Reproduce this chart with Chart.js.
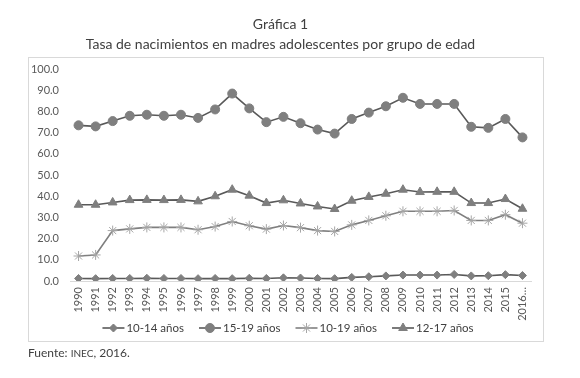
<!DOCTYPE html>
<html>
<head>
<meta charset="utf-8">
<script src="https://cdn.jsdelivr.net/npm/chart.js@4"></script>
<style>
  body { margin: 0; background: #fff; }
  #wrap { width: 580px; height: 378px; }
</style>
</head>
<body>
<div id="wrap"><canvas id="myChart" width="580" height="378"></canvas></div>
<script>
// data
const years = ['1990', '1991', '1992', '1993', '1994', '1995', '1996', '1997', '1998', '1999',
  '2000', '2001', '2002', '2003', '2004', '2005', '2006', '2007', '2008', '2009',
  '2010', '2011', '2012', '2013', '2014', '2015', '2016…'];

const rate1014 = [1.2, 1.1, 1.2, 1.2, 1.3, 1.2, 1.2, 1.1, 1.2, 1.1,
  1.3, 1.2, 1.5, 1.4, 1.2, 1.1, 1.7, 2.0, 2.4, 2.8,
  2.8, 2.8, 3.1, 2.4, 2.5, 3.0, 2.6];

const rate1519 = [73.5, 73.0, 75.5, 78.0, 78.5, 78.0, 78.5, 77.0, 81.0, 88.5,
  81.5, 75.0, 77.5, 74.5, 71.5, 69.6, 76.5, 79.5, 82.5, 86.5,
  83.6, 83.6, 83.6, 72.8, 72.3, 76.5, 67.8];

const rate1019 = [11.8, 12.3, 23.8, 24.6, 25.3, 25.3, 25.3, 24.2, 25.7, 28.1,
  26.1, 24.5, 26.2, 25.2, 23.8, 23.4, 26.5, 28.6, 30.8, 32.9,
  32.9, 32.9, 33.3, 28.6, 28.6, 31.3, 27.3];

const rate1217 = [36.0, 36.0, 37.1, 38.2, 38.3, 38.2, 38.3, 37.6, 40.0, 43.1,
  40.3, 36.8, 38.1, 36.6, 35.2, 34.0, 37.9, 39.7, 41.2, 43.1,
  42.0, 42.1, 42.1, 36.8, 36.8, 38.7, 34.1];

const seriesNames = ['10-14 años', '15-19 años', '10-19 años', '12-17 años'];

const FONT = 'Lato';

// white background + light frame around the chart
const framePlugin = {
  id: 'frame',
  beforeDraw(chart) {
    const ctx = chart.ctx;
    ctx.save();
    ctx.fillStyle = '#fff';
    ctx.fillRect(0, 0, chart.width, chart.height);
    ctx.strokeStyle = '#d9d9d9';
    ctx.lineWidth = 1;
    ctx.strokeRect(28.5, 57.5, 515, 284);
    ctx.restore();
  }
};

// legend drawn as line + marker, like the office chart
const lineLegend = {
  id: 'lineLegend',
  afterDraw(chart) {
    const ctx = chart.ctx;
    const y = 328;
    const lineW = 22;
    const gap = 15;
    ctx.save();
    ctx.font = '11.5px ' + FONT;
    let widths = chart.data.datasets.map(ds => lineW + 2 + ctx.measureText(ds.label).width);
    let total = widths.reduce((a, b) => a + b, 0) + gap * (widths.length - 1);
    let x = 288 - total / 2;
    chart.data.datasets.forEach(function (ds, i) {
      ctx.strokeStyle = ds.borderColor;
      ctx.lineWidth = ds.borderWidth;
      ctx.beginPath();
      ctx.moveTo(x, y);
      ctx.lineTo(x + lineW, y);
      ctx.stroke();
      ctx.fillStyle = ds.pointBackgroundColor;
      ctx.strokeStyle = ds.pointBorderColor;
      ctx.lineWidth = ds.pointBorderWidth;
      Chart.helpers.drawPoint(ctx, {
        pointStyle: ds.pointStyle,
        radius: ds.pointRadius,
        rotation: 0,
        borderWidth: ds.pointBorderWidth
      }, x + lineW / 2, y);
      ctx.fillStyle = '#404040';
      ctx.textBaseline = 'middle';
      ctx.textAlign = 'left';
      ctx.fillText(ds.label, x + lineW + 2, y);
      x += widths[i] + gap;
    });
    ctx.restore();
  }
};

// source note under the frame
const sourceNote = {
  id: 'sourceNote',
  afterDraw(chart) {
    const ctx = chart.ctx;
    ctx.save();
    ctx.fillStyle = '#404040';
    ctx.textBaseline = 'alphabetic';
    let x = 28;
    const y = 357;
    ctx.font = '12px ' + FONT;
    ctx.fillText('Fuente: ', x, y);
    x += ctx.measureText('Fuente: ').width;
    ctx.font = '10px ' + FONT;
    ctx.fillText('INEC', x, y);
    x += ctx.measureText('INEC').width;
    ctx.font = '12px ' + FONT;
    ctx.fillText(', 2016.', x, y);
    ctx.restore();
  }
};

function makeDataset(label, data, style, radius, lineColor, markColor) {
  return {
    label: label,
    data: data,
    borderColor: lineColor,
    borderWidth: 1.6,
    pointStyle: style,
    pointRadius: radius,
    pointHoverRadius: radius,
    pointBackgroundColor: markColor,
    pointBorderColor: markColor,
    pointBorderWidth: 1,
    tension: 0,
    fill: false
  };
}

let ctx = document.getElementById('myChart');
let myChart = new Chart(ctx, {
  type: 'line',
  data: {
    labels: years,
    datasets: [
      makeDataset(seriesNames[0], rate1014, 'rectRot', 4, '#595959', '#7f7f7f'),
      makeDataset(seriesNames[1], rate1519, 'circle', 4.5, '#595959', '#7f7f7f'),
      makeDataset(seriesNames[2], rate1019, 'star', 5, '#7f7f7f', '#a6a6a6'),
      makeDataset(seriesNames[3], rate1217, 'triangle', 5, '#595959', '#7f7f7f')
    ]
  },
  options: {
    responsive: false,
    animation: false,
    layout: { padding: { left: 30, right: 49, top: 0, bottom: 57 } },
    plugins: {
      legend: { display: false },
      tooltip: { enabled: false },
      title: {
        display: true,
        text: ['Gráfica 1', 'Tasa de nacimientos en madres adolescentes por grupo de edad'],
        color: '#404040',
        font: { family: FONT, size: 14, weight: 'normal', lineHeight: 1.4 },
        padding: { top: 15, bottom: 15 }
      }
    },
    scales: {
      x: {
        offset: true,
        grid: { display: false, drawTicks: false },
        border: { display: true, color: '#d9d9d9', width: 1 },
        ticks: {
          autoSkip: false,
          minRotation: 90,
          maxRotation: 90,
          padding: 6,
          color: '#595959',
          font: { family: FONT, size: 11 }
        },
        afterFit(scale) { scale.height = 40; }
      },
      y: {
        min: 0,
        max: 100,
        grid: { display: false, drawTicks: false },
        border: { display: false },
        ticks: {
          stepSize: 10,
          padding: 11,
          color: '#595959',
          font: { family: FONT, size: 11 },
          callback: function (v) { return v.toFixed(1); }
        },
        afterFit(scale) { scale.width = 40; }
      }
    }
  },
  plugins: [framePlugin, lineLegend, sourceNote]
});
</script>
</body>
</html>
